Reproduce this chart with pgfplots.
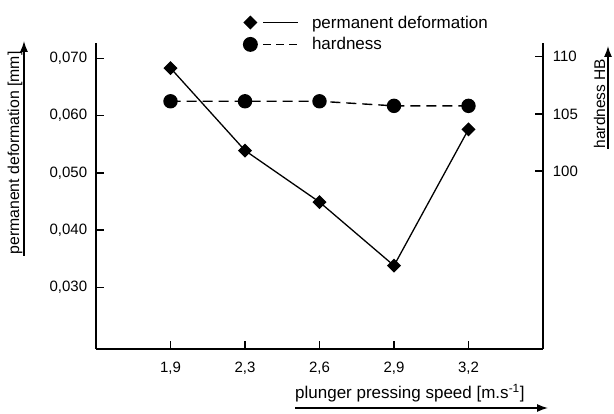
\documentclass[border=0pt]{standalone}
\usepackage{fontspec}
\setmainfont{Liberation Sans}
\usepackage{pgfplots}
\pgfplotsset{compat=1.18}
\usetikzlibrary{arrows.meta}
\pgfplotsset{
  markthenline/.style={legend image code/.code={
    \draw[##1] plot[only marks] coordinates {(0pt,0pt)};
    \draw[##1] (13pt,0pt) -- (48pt,0pt);}},
}

\begin{document}
\begin{tikzpicture}
\useasboundingbox (0pt,0pt) rectangle (614pt,-414pt);
% left axis: permanent deformation
\begin{axis}[
  at={(96pt,-349pt)}, anchor=south west,
  width=447pt, height=306pt, scale only axis,
  xmin=0, xmax=6, ymin=0.01925, ymax=0.07267,
  scaled y ticks=false,
  axis x line*=bottom, axis y line*=left,
  axis line style={-, line width=1.5pt},
  every tick/.style={black, line width=1.5pt},
  tick align=inside, major tick length=8pt,
  xtick={1,2,3,4,5}, xticklabels={{1,9},{2,3},{2,6},{2,9},{3,2}},
  ytick={0.03,0.04,0.05,0.06,0.07},
  yticklabels={{0,030},{0,040},{0,050},{0,060},{0,070}},
  ticklabel style={font=\fontsize{15}{18}\selectfont, inner sep=0pt},
  xticklabel style={yshift=-13pt},
  yticklabel style={xshift=-8.7pt},
  legend style={draw=none, fill=none, at={(0.323,1.103)}, anchor=north west,
    font=\fontsize{17}{20}\selectfont, row sep=4pt,
    /tikz/every odd column/.append style={column sep=11pt}},
  legend cell align=left,
]
\addplot[black, line width=1.3pt, mark=square*, mark size=4.3pt,
  mark options={rotate=45}, markthenline]
  coordinates {(1,0.0683) (2,0.0539) (3,0.0449) (4,0.0338) (5,0.0576)};
\addlegendentry{permanent deformation}
\addlegendimage{black, line width=1.3pt, dash pattern=on 8pt off 5pt,
  mark=*, mark size=6.8pt, mark options={solid}, markthenline}
\addlegendentry{hardness}
\end{axis}
% right axis: hardness
\begin{axis}[
  at={(96pt,-349pt)}, anchor=south west,
  width=447pt, height=306pt, scale only axis,
  xmin=0, xmax=6, ymin=84.42, ymax=111.2,
  axis x line=none, axis y line*=right,
  axis line style={-, line width=1.5pt},
  every tick/.style={black, line width=1.5pt},
  tick align=inside, major tick length=8pt,
  ytick={100,105,110}, yticklabels={100,105,110},
  ticklabel style={font=\fontsize{15}{18}\selectfont, inner sep=0pt},
  yticklabel style={anchor=west, xshift=9.7pt},
]
\addplot[black, line width=1.4pt, dash pattern=on 10pt off 6pt,
  mark=*, mark size=6.5pt, mark options={solid}]
  coordinates {(1,106.1) (2,106.1) (3,106.1) (4,105.7) (5,105.7)};
\end{axis}
% axis titles with arrows
\node[rotate=90, anchor=south, inner sep=0pt, font=\fontsize{15.8}{18}\selectfont]
  at (22.5pt,-153pt) {permanent deformation [mm]};
\draw[line width=1.3pt, -{Latex[length=11pt,width=8pt]}] (24pt,-256pt) -- (24pt,-41pt);
\node[rotate=90, anchor=south, inner sep=0pt, font=\fontsize{15.5}{18}\selectfont]
  at (605.5pt,-103.5pt) {hardness HB};
\draw[line width=1.3pt, -{Latex[length=11pt,width=8pt]}] (608pt,-149pt) -- (608pt,-46pt);
\node[anchor=base west, inner sep=0pt, font=\fontsize{17}{20}\selectfont]
  at (295pt,-399pt) {plunger pressing speed [m.s\textsuperscript{-1}]};
\draw[line width=1.3pt, -{Latex[length=11pt,width=8pt]}] (295pt,-408pt) -- (548pt,-408pt);
\end{tikzpicture}
\end{document}
